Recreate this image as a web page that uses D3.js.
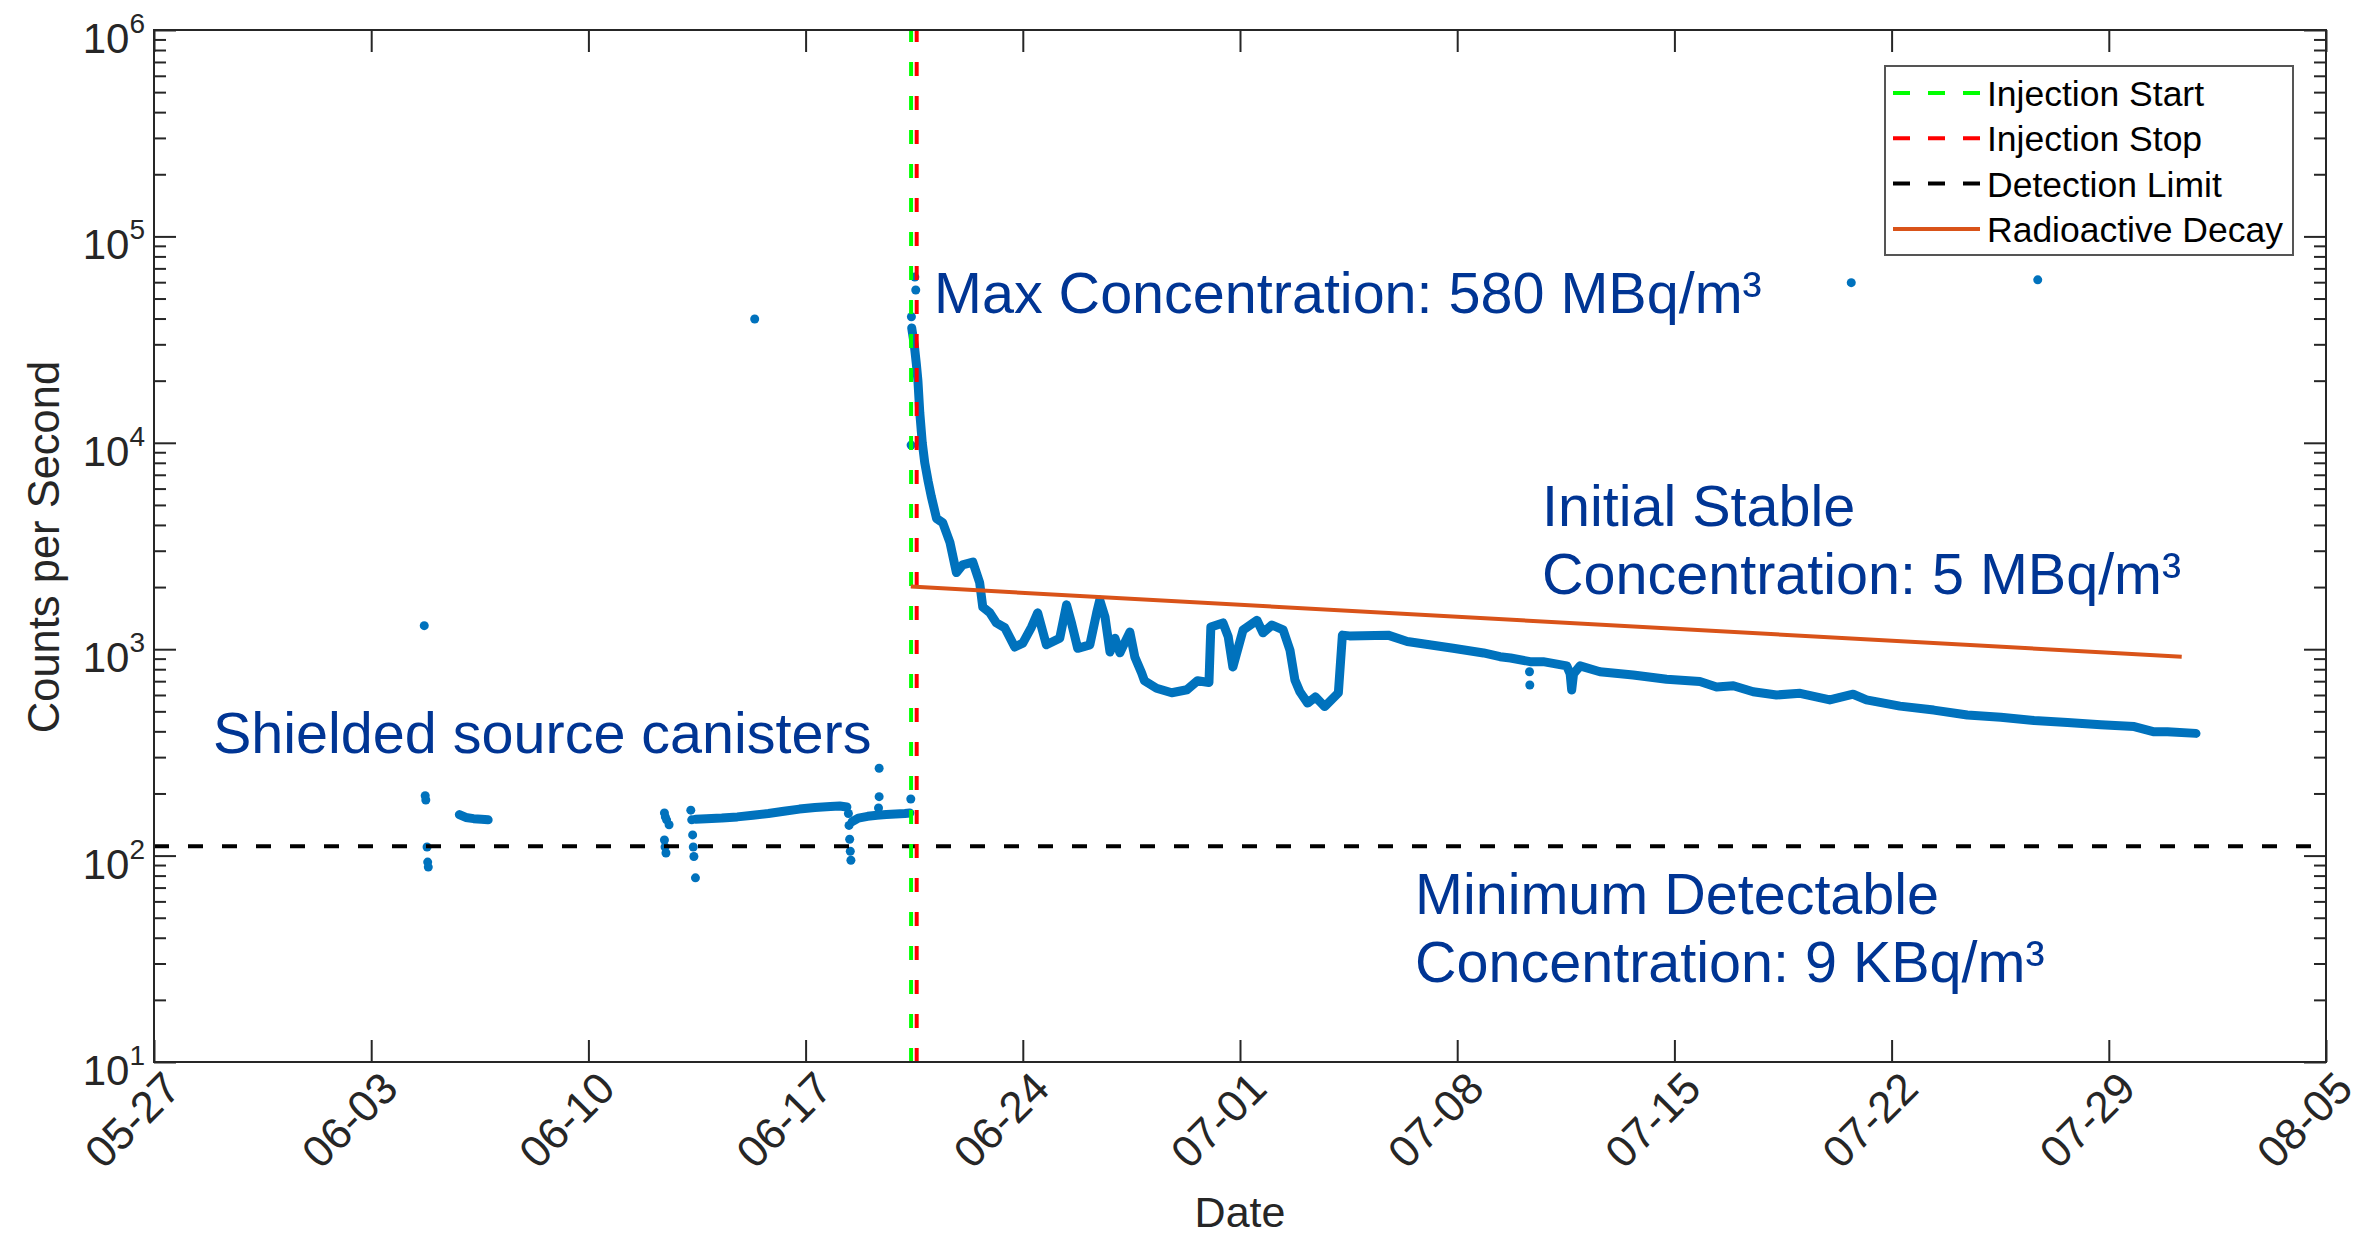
<!DOCTYPE html>
<html>
<head>
<meta charset="utf-8">
<script src="https://cdn.jsdelivr.net/npm/d3@7"></script>
<style>
  body { margin: 0; background: #fff; }
  svg { display: block; font-family: "Liberation Sans", Arial, sans-serif; }
</style>
</head>
<body>
<svg id="chart" width="2373" height="1235"></svg>
<script>
// ---- data (x = days after 05-27 00:00, y = counts per second) ----
const year = 2019;
const xTickLabels = ["05-27","06-03","06-10","06-17","06-24","07-01","07-08","07-15","07-22","07-29","08-05"];
const yTickPowers = [1, 2, 3, 4, 5, 6];

// shielded source canisters, before injection
const beforeA = [[9.84,158],[10.05,153],[10.3,151],[10.55,150],[10.77,149]];
const beforeB = [[17.45,150],[17.8,151],[18.3,152],[18.8,154],[19.3,157],[19.8,160],[20.3,164],
  [20.8,168],[21.3,171],[21.8,173],[22.1,174],[22.33,172]];
const beforeC = [[22.5,146],[22.7,152],[23.0,155],[23.3,157],[23.6,158],[23.9,159],[24.2,160],[24.36,161]];

// after injection
const afterInjection = [[24.42,36000],[24.5,30000],[24.57,24000],[24.62,20000],[24.68,14000],[24.76,10000],
  [24.84,8000],[24.95,6500],[25.05,5500],[25.22,4300],[25.42,4100],[25.65,3300],[25.86,2350],[26.06,2560],
  [26.39,2640],[26.61,2100],[26.71,1600],[26.94,1500],[27.15,1340],[27.42,1270],[27.74,1025],[28.0,1070],
  [28.28,1280],[28.48,1500],[28.76,1050],[29.19,1130],[29.41,1640],[29.57,1340],[29.77,1010],[30.16,1050],
  [30.38,1500],[30.48,1730],[30.65,1430],[30.81,970],[30.97,1130],[31.13,960],[31.29,1080],[31.45,1210],
  [31.61,917],[31.83,767],[31.92,703],[32.31,647],[32.8,615],[33.29,636],[33.63,703],[34.0,690],
  [34.06,1280],[34.45,1340],[34.62,1150],[34.77,820],[35.1,1240],[35.55,1380],[35.74,1200],[36.03,1310],
  [36.39,1240],[36.61,990],[36.77,710],[36.93,622],[37.18,548],[37.43,587],[37.73,527],[38.17,614],
  [38.3,1170],[38.53,1160],[39.77,1170],[40.39,1090],[41.87,1010],[42.85,959],[43.38,920],[43.72,906],
  [44.35,870],[44.77,870],[45.53,830],[45.64,760],[45.69,634],[45.75,760],[45.96,830],[46.6,778],
  [47.67,750],[48.75,715],[49.82,697],[50.36,656],[50.9,665],[51.54,622],[52.29,600],[53.05,611],
  [54.01,568],[54.76,605],[55.19,568],[56.27,530],[57.36,507],[58.44,480],[59.52,468],[60.59,451],
  [61.67,441],[62.74,430],[63.82,422],[64.46,398],[64.89,398],[65.81,391]];

// isolated readings
const loosePoints = [[8.71,1300],[8.74,195],[8.76,186],[8.8,110],[8.82,93],[8.84,88],
  [16.45,161],[16.48,154],[16.52,149],[16.6,141],[16.45,119],[16.47,110],[16.5,103],
  [17.3,166],[17.33,149],[17.36,126],[17.38,110],[17.4,99],[17.45,78],
  [19.36,39800],[22.38,160],[22.4,140],[22.42,120],[22.44,105],[22.46,95],
  [23.37,265],[23.37,193],[23.35,170],[24.39,188],
  [24.40,9750],[24.41,40800],[24.52,63500],[24.55,55000],
  [44.33,778],[44.34,671],[54.7,59700],[60.71,61600]];

const decayLine = [[24.39,2010],[65.35,920]];
const detectionLimit = 111;
const injectionStart = 24.40;
const injectionStop = 24.58;

const legendLabels = ["Injection Start","Injection Stop","Detection Limit","Radioactive Decay"];
const legendColors = ["#00ff00","#ff0000","#000000","#d95319"];

// ---- layout ----
const mLeft = 154, mRight = 2326, mTop = 30, mBottom = 1062;
const blue = "#0072bd", textBlue = "#003594", axisColor = "#262626";

const svg = d3.select("#chart");
const t0 = Date.UTC(year, 4, 27);
const toDate = d => new Date(t0 + d * 864e5);
const parseTick = d3.utcParse("%Y-%m-%d");
const xTicks = xTickLabels.map(s => parseTick(year + "-" + s));

const x = d3.scaleUtc().domain([xTicks[0], xTicks[xTicks.length - 1]]).range([mLeft, mRight]);
const y = d3.scaleLog().domain([10, 1e6]).range([mBottom, mTop]);

// ---- data marks ----
const plot = svg.append("g");
const line = d3.line().x(d => x(toDate(d[0]))).y(d => y(d[1]));

[beforeA, beforeB, beforeC, afterInjection].forEach(seg => {
  plot.append("path")
    .attr("d", line(seg))
    .attr("fill", "none")
    .attr("stroke", blue)
    .attr("stroke-width", 9)
    .attr("stroke-linecap", "round")
    .attr("stroke-linejoin", "round");
});

plot.selectAll("circle.pt")
  .data(loosePoints)
  .enter()
  .append("circle")
  .attr("class", "pt")
  .attr("cx", d => x(toDate(d[0])))
  .attr("cy", d => y(d[1]))
  .attr("r", 4.5)
  .attr("fill", blue);

// detection limit
plot.append("line")
  .attr("x1", mLeft).attr("x2", mRight)
  .attr("y1", y(detectionLimit)).attr("y2", y(detectionLimit))
  .attr("stroke", "#000").attr("stroke-width", 4)
  .attr("stroke-dasharray", "15,19");

// injection start / stop
[[injectionStart, "#00ff00"], [injectionStop, "#ff0000"]].forEach(([d, c]) => {
  plot.append("line")
    .attr("x1", x(toDate(d))).attr("x2", x(toDate(d)))
    .attr("y1", mBottom).attr("y2", mTop)
    .attr("stroke", c).attr("stroke-width", 4)
    .attr("stroke-dasharray", "14,20");
});

// radioactive decay
plot.append("path")
  .attr("d", line(decayLine))
  .attr("fill", "none")
  .attr("stroke", "#d95319")
  .attr("stroke-width", 4);

// ---- axes box ----
svg.append("rect")
  .attr("x", mLeft).attr("y", mTop)
  .attr("width", mRight - mLeft).attr("height", mBottom - mTop)
  .attr("fill", "none").attr("stroke", axisColor).attr("stroke-width", 2);

// x ticks (bottom and top, pointing inward)
const xAxisB = svg.append("g").attr("transform", `translate(0,${mBottom})`)
  .call(d3.axisBottom(x).tickValues(xTicks).tickSize(-22).tickFormat(""));
const xAxisT = svg.append("g").attr("transform", `translate(0,${mTop})`)
  .call(d3.axisTop(x).tickValues(xTicks).tickSize(-22).tickFormat(""));

// y ticks: majors and minors, left and right
const yMajor = yTickPowers.map(p => Math.pow(10, p));
const yMinor = [];
yTickPowers.slice(0, -1).forEach(p => { for (let k = 2; k <= 9; k++) yMinor.push(k * Math.pow(10, p)); });

const yAxisL = svg.append("g").attr("transform", `translate(${mLeft},0)`)
  .call(d3.axisLeft(y).tickValues(yMajor).tickSize(-22).tickFormat(""));
const yAxisR = svg.append("g").attr("transform", `translate(${mRight},0)`)
  .call(d3.axisRight(y).tickValues(yMajor).tickSize(-22).tickFormat(""));
const yMinL = svg.append("g").attr("transform", `translate(${mLeft},0)`)
  .call(d3.axisLeft(y).tickValues(yMinor).tickSize(-12).tickFormat(""));
const yMinR = svg.append("g").attr("transform", `translate(${mRight},0)`)
  .call(d3.axisRight(y).tickValues(yMinor).tickSize(-12).tickFormat(""));

[xAxisB, xAxisT, yAxisL, yAxisR, yMinL, yMinR].forEach(g => {
  g.select(".domain").remove();
  g.selectAll(".tick line").attr("stroke", axisColor).attr("stroke-width", 2);
});

// x tick labels, rotated
svg.append("g").selectAll("text")
  .data(xTicks)
  .enter()
  .append("text")
  .attr("transform", d => `translate(${x(d) + 29},${mBottom + 29}) rotate(-45)`)
  .attr("text-anchor", "end")
  .attr("font-size", 44)
  .attr("fill", axisColor)
  .text((d, i) => xTickLabels[i]);

// y tick labels 10^n
const yLab = svg.append("g").selectAll("text")
  .data(yTickPowers)
  .enter()
  .append("text")
  .attr("x", mLeft - 9)
  .attr("y", p => y(Math.pow(10, p)) + 23)
  .attr("text-anchor", "end")
  .attr("font-size", 42)
  .attr("fill", axisColor);
yLab.append("tspan").text("10");
yLab.append("tspan").attr("dy", -20).attr("font-size", 28).text(p => p);

// axis titles
svg.append("text")
  .attr("x", (mLeft + mRight) / 2).attr("y", 1227)
  .attr("text-anchor", "middle").attr("font-size", 43).attr("fill", axisColor)
  .text("Date");
svg.append("text")
  .attr("transform", `translate(59,${(mTop + mBottom) / 2 + 1}) rotate(-90)`)
  .attr("text-anchor", "middle").attr("font-size", 43.5).attr("fill", axisColor)
  .text("Counts per Second");

// ---- annotations ----
const notes = svg.append("g").attr("fill", textBlue).attr("font-size", 57.5);
notes.append("text").attr("x", 934).attr("y", 313).text("Max Concentration: 580 MBq/m³");
notes.append("text").attr("x", 1542).attr("y", 526).text("Initial Stable");
notes.append("text").attr("x", 1542).attr("y", 594).text("Concentration: 5 MBq/m³");
notes.append("text").attr("x", 213).attr("y", 753).text("Shielded source canisters");
notes.append("text").attr("x", 1415).attr("y", 914).text("Minimum Detectable");
notes.append("text").attr("x", 1415).attr("y", 982).text("Concentration: 9 KBq/m³");

// ---- legend ----
const lg = svg.append("g");
lg.append("rect")
  .attr("x", 1885).attr("y", 66).attr("width", 408).attr("height", 189)
  .attr("fill", "#fff").attr("stroke", "#555").attr("stroke-width", 2);
const rows = lg.selectAll("g.row")
  .data(legendLabels)
  .enter()
  .append("g")
  .attr("class", "row")
  .attr("transform", (d, i) => `translate(0,${93 + i * 45.3})`);
rows.append("line")
  .attr("x1", 1893).attr("x2", 1980)
  .attr("stroke", (d, i) => legendColors[i])
  .attr("stroke-width", 4)
  .attr("stroke-dasharray", (d, i) => i < 3 ? "17,18" : null);
rows.append("text")
  .attr("x", 1987).attr("y", 13)
  .attr("font-size", 35.5).attr("fill", "#000")
  .text(d => d);
</script>
</body>
</html>
